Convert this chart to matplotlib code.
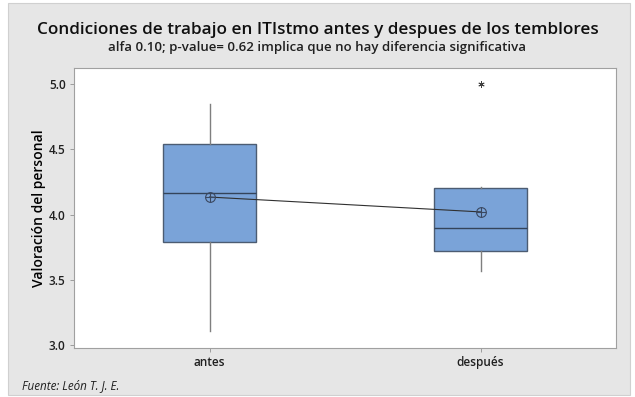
import matplotlib.pyplot as plt
from matplotlib.patches import Rectangle

plt.rcParams['font.family'] = ['Open Sans', 'DejaVu Sans']

# datos
grupos = ['antes', 'después']
q1 = [3.79, 3.72]
mediana = [4.165, 3.895]
q3 = [4.54, 4.20]
bigote_bajo = [3.105, 3.565]
bigote_alto = [4.845, 4.21]
medias = [4.134, 4.02]
atipicos = [[], [5.0]]

W, H = 635, 397
fig = plt.figure(figsize=(W / 100, H / 100), dpi=100)
fig.patch.set_facecolor('white')

# panel gris de fondo
fig.patches.append(Rectangle((8 / W, 1 - 395 / H), 622 / W, 392 / H,
                             transform=fig.transFigure, facecolor='#e6e6e6',
                             edgecolor='#d0d0d0', lw=0.8, zorder=-5))

ax = fig.add_axes([74 / W, 1 - 348 / H, (616 - 74) / W, (348 - 68) / H])
ax.set_zorder(2)
ax.set_facecolor('white')

stats = []
for i in range(len(grupos)):
    stats.append({'label': grupos[i], 'q1': q1[i], 'med': mediana[i], 'q3': q3[i],
                  'whislo': bigote_bajo[i], 'whishi': bigote_alto[i],
                  'fliers': atipicos[i], 'mean': medias[i]})

pos = [1, 2]
ax.bxp(stats, positions=pos, widths=0.34, patch_artist=True, showcaps=False,
       boxprops=dict(facecolor='#7aa3d8', edgecolor='#4c5c72', linewidth=1.0),
       medianprops=dict(color='#34445a', linewidth=1.0),
       whiskerprops=dict(color='#7f7f7f', linewidth=1.0),
       flierprops=dict(marker=(6, 2, 0), markersize=4.5, markeredgecolor='#404040',
                       markeredgewidth=0.6),
       zorder=2)

# linea que une las medias
ax.plot(pos, medias, color='#303030', lw=0.8, zorder=3)
ax.plot(pos, medias, ls='none', marker='o', ms=7, mfc='none', mec='#3a4860', mew=0.8, zorder=4)
ax.plot(pos, medias, ls='none', marker='+', ms=7, mec='#3a4860', mew=0.8, zorder=4)

ax.set_xlim(0.5, 2.5)
ax.set_ylim(2.977, 5.123)
ax.set_yticks([3.0, 3.5, 4.0, 4.5, 5.0])
ax.set_yticklabels(['3.0', '3.5', '4.0', '4.5', '5.0'])
ax.set_xticks(pos)
ax.set_xticklabels(grupos)
ax.tick_params(axis='both', length=3, width=0.6, color='#909090', labelsize=8.5,
               labelcolor='#202020', pad=3)
for lab in ax.get_xticklabels() + ax.get_yticklabels():
    lab.set_fontweight('semibold')
for s in ax.spines.values():
    s.set_color('#a0a0a0')
    s.set_linewidth(0.8)

ax.set_ylabel('Valoración del personal', fontsize=10, fontweight='semibold', labelpad=2)

fig.text(0.5, 1 - 30 / H, 'Condiciones de trabajo en ITIstmo antes y despues de los temblores',
         ha='center', va='center', fontsize=12.3, fontweight='semibold', color='#101010')
fig.text(0.5, 1 - 48 / H, 'alfa 0.10; p-value= 0.62 implica que no hay diferencia significativa',
         ha='center', va='center', fontsize=9.5, fontweight='semibold', color='#202020')
fig.text(22 / W, 1 - 386 / H, 'Fuente: León T. J. E.', ha='left', va='center',
         fontsize=8.4, style='italic', color='#202020')

fig.savefig('out.png', dpi=100)
